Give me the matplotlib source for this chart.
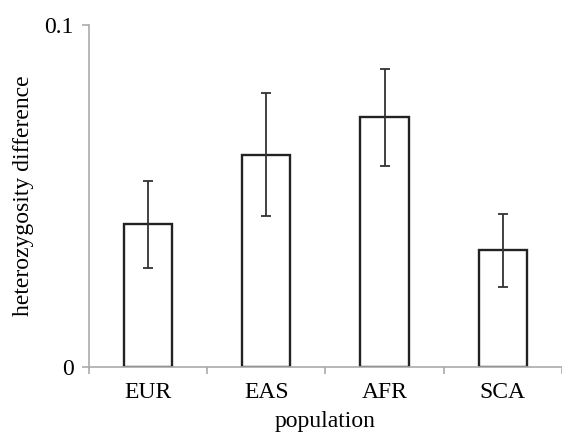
"""
Heterozygosity difference per population, bar chart with error bars
"""

import matplotlib.pyplot as plt
import numpy as np

populations = ["EUR", "EAS", "AFR", "SCA"]
het_diff = [0.0417, 0.0620, 0.0730, 0.0342]
err_upper = [0.0544, 0.0800, 0.0871, 0.0446]
err_lower = [0.0290, 0.0440, 0.0587, 0.0234]

plt.rcParams["font.family"] = ["Liberation Serif", "DejaVu Serif"]

fig = plt.figure(figsize=(5.62, 4.32), dpi=100)
ax = fig.add_axes([0.158, 0.151, 0.842, 0.791])

x = np.arange(len(populations))
vals = np.array(het_diff)
yerr = [vals - np.array(err_lower), np.array(err_upper) - vals]

ax.bar(x, vals, width=0.41, color="white", edgecolor="#222222", linewidth=1.7, zorder=2)
ax.errorbar(
    x, vals, yerr=yerr, fmt="none", ecolor="#333333", elinewidth=1.3,
    capsize=3.5, capthick=1.3, zorder=3,
)

ax.set_xlim(-0.5, len(populations) - 0.5)
ax.set_ylim(0, 0.1)
ax.set_yticks([0, 0.1])
ax.set_yticklabels(["0", "0.1"])
ax.set_xticks(x)
ax.set_xticklabels(populations)
ax.set_xticks(np.arange(len(populations) + 1) - 0.5, minor=True)

ax.tick_params(axis="x", which="major", length=0, labelsize=17, pad=11)
ax.tick_params(axis="x", which="minor", length=5, color="#aaaaaa", width=1.2)
ax.tick_params(axis="y", length=5, color="#aaaaaa", width=1.2, labelsize=17, pad=6)

for side in ["top", "right"]:
    ax.spines[side].set_visible(False)
for side in ["left", "bottom"]:
    ax.spines[side].set_color("#aaaaaa")
    ax.spines[side].set_linewidth(1.2)

ax.set_xlabel("population", fontsize=17, labelpad=6)
ax.set_ylabel("heterozygosity difference", fontsize=17, labelpad=7)

fig.savefig("out.png", dpi=100)
